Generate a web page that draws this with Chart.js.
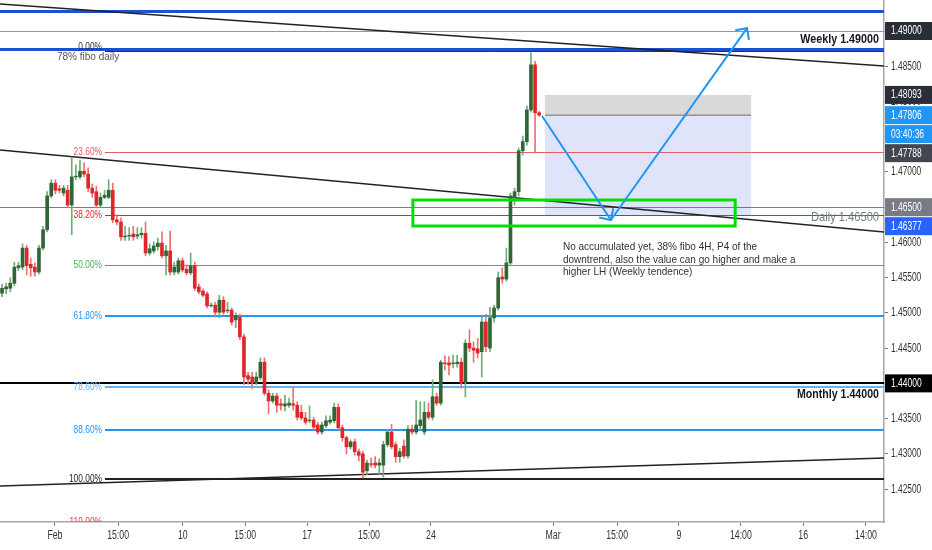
<!DOCTYPE html>
<html>
<head>
<meta charset="utf-8">
<script src="https://cdn.jsdelivr.net/npm/chart.js@4.4.1/dist/chart.umd.min.js"></script>
<style>
  html, body { margin: 0; padding: 0; background: #fff; }
  #wrap { width: 932px; height: 550px; position: relative; }
</style>
</head>
<body>
<div id="wrap"><canvas id="chart"></canvas></div>
<script>
// Velas 4H (precio)
const open = [1.4528,1.4534,1.4535,1.4542,1.4564,1.4565,1.4592,1.4569,1.4565,1.4558,
  1.4592,1.4618,1.4666,1.4684,1.4676,1.4670,1.4674,1.4653,1.4693,1.4693,
  1.4701,1.4697,1.4677,1.4672,1.4653,1.4664,1.4664,1.4674,1.4632,1.4629,
  1.4608,1.4609,1.4612,1.4609,1.4611,1.4613,1.4585,1.4588,1.4594,1.4599,
  1.4581,1.4588,1.4558,1.4558,1.4574,1.4562,1.4557,1.4567,1.4537,1.4531,
  1.4527,1.4510,1.4511,1.4501,1.4518,1.4503,1.4504,1.4490,1.4494,1.4466,
  1.4411,1.4409,1.4401,1.4408,1.4430,1.4386,1.4375,1.4382,1.4371,1.4368,
  1.4369,1.4371,1.4369,1.4359,1.4351,1.4347,1.4348,1.4341,1.4331,1.4340,
  1.4345,1.4347,1.4366,1.4337,1.4323,1.4310,1.4317,1.4303,1.4300,1.4276,
  1.4286,1.4287,1.4284,1.4284,1.4313,1.4331,1.4313,1.4296,1.4311,1.4297,
  1.4335,1.4331,1.4340,1.4331,1.4359,1.4352,1.4381,1.4372,1.4429,1.4429,
  1.4428,1.4428,1.4430,1.4402,1.4457,1.4450,1.4449,1.4445,1.4487,1.4450,
  1.4493,1.4507,1.4551,1.4548,1.4571,1.4664,1.4672,1.4730,1.4743,1.4788,
  1.4852,1.4784];
const high = [1.4541,1.4542,1.4550,1.4572,1.4572,1.4598,1.4596,1.4578,1.4571,1.4596,
  1.4623,1.4672,1.4689,1.4689,1.4681,1.4681,1.4681,1.4721,1.4710,1.4717,
  1.4713,1.4706,1.4683,1.4680,1.4670,1.4674,1.4689,1.4684,1.4639,1.4635,
  1.4623,1.4621,1.4623,1.4621,1.4621,1.4629,1.4598,1.4601,1.4606,1.4615,
  1.4596,1.4616,1.4572,1.4578,1.4578,1.4568,1.4585,1.4572,1.4541,1.4534,
  1.4530,1.4514,1.4515,1.4525,1.4523,1.4515,1.4507,1.4500,1.4498,1.4470,
  1.4416,1.4416,1.4416,1.4436,1.4436,1.4391,1.4386,1.4386,1.4378,1.4383,
  1.4379,1.4395,1.4374,1.4369,1.4359,1.4368,1.4352,1.4345,1.4345,1.4354,
  1.4354,1.4372,1.4371,1.4341,1.4325,1.4320,1.4321,1.4307,1.4304,1.4291,
  1.4294,1.4296,1.4293,1.4318,1.4335,1.4342,1.4317,1.4308,1.4320,1.4340,
  1.4341,1.4376,1.4374,1.4374,1.4372,1.4405,1.4386,1.4433,1.4439,1.4438,
  1.4440,1.4440,1.4436,1.4462,1.4476,1.4459,1.4464,1.4496,1.4498,1.4508,
  1.4511,1.4558,1.4564,1.4592,1.4670,1.4677,1.4734,1.4751,1.4794,1.4869,
  1.4857,1.4786];
const low = [1.4523,1.4527,1.4530,1.4538,1.4560,1.4561,1.4554,1.4552,1.4552,1.4555,
  1.4589,1.4615,1.4663,1.4669,1.4670,1.4666,1.4649,1.4611,1.4689,1.4690,
  1.4693,1.4672,1.4664,1.4649,1.4649,1.4662,1.4662,1.4628,1.4625,1.4603,
  1.4603,1.4603,1.4603,1.4605,1.4606,1.4581,1.4582,1.4585,1.4589,1.4578,
  1.4554,1.4554,1.4554,1.4555,1.4558,1.4554,1.4554,1.4532,1.4527,1.4523,
  1.4507,1.4508,1.4494,1.4493,1.4498,1.4500,1.4483,1.4479,1.4462,1.4398,
  1.4399,1.4393,1.4398,1.4405,1.4383,1.4357,1.4372,1.4359,1.4362,1.4361,
  1.4366,1.4362,1.4348,1.4348,1.4342,1.4344,1.4334,1.4328,1.4328,1.4337,
  1.4342,1.4344,1.4334,1.4318,1.4300,1.4307,1.4298,1.4290,1.4266,1.4270,
  1.4281,1.4280,1.4271,1.4267,1.4310,1.4307,1.4288,1.4288,1.4294,1.4294,
  1.4328,1.4328,1.4334,1.4327,1.4349,1.4348,1.4369,1.4369,1.4419,1.4412,
  1.4422,1.4423,1.4393,1.4381,1.4445,1.4430,1.4436,1.4409,1.4445,1.4445,
  1.4487,1.4504,1.4542,1.4545,1.4567,1.4653,1.4666,1.4724,1.4738,1.4785,
  1.4727,1.4779];
const close = [1.4535,1.4537,1.4542,1.4565,1.4567,1.4592,1.4567,1.4564,1.4558,1.4592,
  1.4618,1.4666,1.4684,1.4674,1.4674,1.4677,1.4653,1.4693,1.4694,1.4701,
  1.4697,1.4677,1.4670,1.4653,1.4664,1.4667,1.4674,1.4632,1.4629,1.4608,
  1.4609,1.4610,1.4608,1.4611,1.4613,1.4585,1.4591,1.4595,1.4599,1.4581,
  1.4588,1.4558,1.4565,1.4574,1.4561,1.4557,1.4567,1.4535,1.4530,1.4525,
  1.4510,1.4511,1.4501,1.4518,1.4501,1.4504,1.4487,1.4496,1.4466,1.4409,
  1.4406,1.4401,1.4409,1.4430,1.4386,1.4375,1.4382,1.4369,1.4369,1.4371,
  1.4372,1.4369,1.4352,1.4351,1.4345,1.4348,1.4338,1.4331,1.4341,1.4347,
  1.4348,1.4366,1.4337,1.4323,1.4310,1.4317,1.4303,1.4298,1.4274,1.4287,
  1.4285,1.4284,1.4287,1.4313,1.4331,1.4310,1.4296,1.4303,1.4297,1.4335,
  1.4331,1.4341,1.4348,1.4359,1.4352,1.4381,1.4372,1.4430,1.4428,1.4426,
  1.4429,1.4430,1.4401,1.4457,1.4450,1.4447,1.4443,1.4487,1.4452,1.4493,
  1.4507,1.4550,1.4548,1.4571,1.4666,1.4672,1.4730,1.4743,1.4788,1.4852,
  1.4784,1.47806];

// Ejes
const yTickValues = [1.425,1.43,1.435,1.44,1.445,1.45,1.455,1.46,1.465,1.47,1.475,1.48,1.485,1.49];
const xTickSlots = [12.9,28.3,44.1,59.3,74.4,89.5,104.6,134.4,150,165.1,180.2,195.4,210.7];
const xTickLabels = ['Feb','15:00','10','15:00','17','15:00','24','Mar','15:00','9','14:00','16','14:00'];

// Niveles y dibujos
const keyLevels = [1.49, 1.465, 1.44];
const keyLabels = ['Weekly 1.49000', 'Daily 1.46500', 'Monthly 1.44000'];
const blueLevels = [1.4928, 1.4874];
const fibHigh = 1.48716, fibLow = 1.42643, fibStart = 25.1;
const fibRatios = [0, 0.236, 0.382, 0.5, 0.618, 0.786, 0.886, 1, 1.1];
const fibColors = ['#333333','#e35d5d','#ff1a1a','#4caf50','#2196f3','#64b5f6','#2196f3','#222222','#f23645'];
const trendLines = [[-0.5, 1.49383, 215.1, 1.48503], [-0.5, 1.47312, 215.1, 1.46148], [-0.5, 1.42544, 215.1, 1.42941]];
const posBox = [132.4, 182.7];
const posPrices = [1.48093, 1.47806, 1.46377];
const zoneBox = [100.2, 178.8, 1.46602, 1.46233];
const arrowPath = [[131.7, 1.47794], [148.5, 1.46318], [181.7, 1.4904]];
const noteLines = ['No accumulated yet, 38% fibo 4H, P4 of the', 'downtrend, also the value can go higher and make a', 'higher LH (Weekly tendence)'];
const tagPrices = [1.49, 1.48093, 1.47806, 1.47806, 1.47788, 1.465, 1.46377, 1.44];
const tagTexts = ['1.49000','1.48093','1.47806','03:40:36','1.47788','1.46500','1.46377','1.44000'];
const tagColors = ['#2a2e39','#2a2e39','#2196f3','#2196f3','#434651','#787b86','#2962ff','#000000'];

const FONT = '"Liberation Sans", Arial, sans-serif';
const slots = open.map((_, i) => i);
const isUp = i => close[i] >= open[i];

// texto estrecho (estilo TradingView)
function narrow(ctx, text, x, y, sx, align) {
    ctx.save();
    ctx.translate(x, y);
    ctx.scale(sx, 1);
    ctx.textAlign = align;
    ctx.fillText(text, 0, 0);
    ctx.restore();
}

// Dibujo de niveles, fibo, textos y etiquetas del eje
const overlay = {
    id: 'overlay',
    beforeDatasetsDraw(chart) {
        const { ctx, chartArea: a, scales: { x, y } } = chart;
        ctx.save();
        ctx.beginPath();
        ctx.rect(a.left, a.top, a.right - a.left, a.bottom - a.top);
        ctx.clip();

        // caja de posición
        const px1 = x.getPixelForValue(posBox[0]), px2 = x.getPixelForValue(posBox[1]);
        const t = y.getPixelForValue(posPrices[0]), e = y.getPixelForValue(posPrices[1]), s = y.getPixelForValue(posPrices[2]);
        ctx.fillStyle = '#d9d9d9';
        ctx.fillRect(px1, t, px2 - px1, e - t);
        ctx.fillStyle = '#dfe4fb';
        ctx.fillRect(px1, e, px2 - px1, s - e);
        ctx.strokeStyle = '#6b6b6b';
        ctx.lineWidth = 1;
        ctx.beginPath(); ctx.moveTo(px1, e); ctx.lineTo(px2, e); ctx.stroke();

        const hline = (p, x0, color, w) => {
            const py = Math.round(y.getPixelForValue(p)) + (w % 2 ? 0.5 : 0);
            ctx.strokeStyle = color; ctx.lineWidth = w;
            ctx.beginPath(); ctx.moveTo(x0, py); ctx.lineTo(a.right, py); ctx.stroke();
        };
        // niveles clave
        hline(keyLevels[0], a.left, '#9598a1', 1);
        hline(keyLevels[1], a.left, '#787b86', 1);
        hline(keyLevels[2], a.left, '#000000', 2);
        blueLevels.forEach(p => hline(p, a.left, '#1a4fd6', 3));

        // fibonacci
        const fx = x.getPixelForValue(fibStart);
        ctx.font = '11px ' + FONT;
        ctx.textBaseline = 'middle';
        fibRatios.forEach((r, i) => {
            const p = fibHigh - r * (fibHigh - fibLow);
            hline(p, fx, fibColors[i], (r === 0.618 || r === 0.886 || r === 0.786 || r === 1) ? 2 : 1);
            ctx.fillStyle = fibColors[i];
            narrow(ctx, (r * 100).toFixed(2) + '%', fx - 3, y.getPixelForValue(p) - (r === 0 ? 4 : 0), 0.76, 'right');
        });

        // líneas de tendencia
        ctx.strokeStyle = '#222';
        ctx.lineWidth = 1.4;
        trendLines.forEach(l => {
            ctx.beginPath();
            ctx.moveTo(x.getPixelForValue(l[0]), y.getPixelForValue(l[1]));
            ctx.lineTo(x.getPixelForValue(l[2]), y.getPixelForValue(l[3]));
            ctx.stroke();
        });
        ctx.restore();
    },
    afterDatasetsDraw(chart) {
        const { ctx, chartArea: a, scales: { x, y } } = chart;
        ctx.save();
        ctx.beginPath();
        ctx.rect(a.left, a.top, a.right - a.left, a.bottom - a.top);
        ctx.clip();

        // zona verde
        const zx1 = x.getPixelForValue(zoneBox[0]), zx2 = x.getPixelForValue(zoneBox[1]);
        const zy1 = y.getPixelForValue(zoneBox[2]), zy2 = y.getPixelForValue(zoneBox[3]);
        ctx.strokeStyle = '#00e000';
        ctx.lineWidth = 3;
        ctx.strokeRect(zx1, zy1, zx2 - zx1, zy2 - zy1);

        // flechas
        const pts = arrowPath.map(p => [x.getPixelForValue(p[0]), y.getPixelForValue(p[1])]);
        ctx.strokeStyle = '#2196f3';
        ctx.lineWidth = 2;
        for (let i = 0; i < pts.length - 1; i++) {
            const [x0, y0] = pts[i], [x1, y1] = pts[i + 1];
            ctx.beginPath(); ctx.moveTo(x0, y0); ctx.lineTo(x1, y1); ctx.stroke();
            const ang = Math.atan2(y0 - y1, x0 - x1);
            ctx.beginPath();
            ctx.moveTo(x1 + 12 * Math.cos(ang - 0.78), y1 + 12 * Math.sin(ang - 0.78));
            ctx.lineTo(x1, y1);
            ctx.lineTo(x1 + 12 * Math.cos(ang + 0.78), y1 + 12 * Math.sin(ang + 0.78));
            ctx.stroke();
        }

        // textos de niveles
        ctx.textBaseline = 'middle';
        ctx.fillStyle = '#131722';
        ctx.font = 'bold 12.5px ' + FONT;
        narrow(ctx, keyLabels[0], a.right - 5, y.getPixelForValue(keyLevels[0]) + 9, 0.86, 'right');
        narrow(ctx, keyLabels[2], a.right - 5, y.getPixelForValue(keyLevels[2]) + 11, 0.85, 'right');
        ctx.fillStyle = '#787b86';
        ctx.font = '12.5px ' + FONT;
        narrow(ctx, keyLabels[1], a.right - 5, y.getPixelForValue(keyLevels[1]) + 10, 0.89, 'right');

        // nota fibo diaria
        ctx.fillStyle = '#555';
        ctx.font = '11.5px ' + FONT;
        narrow(ctx, '78% fibo daily', x.getPixelForValue(13.4), y.getPixelForValue(1.48631), 0.87, 'left');

        // comentario
        ctx.fillStyle = '#333';
        ctx.font = '11.5px ' + FONT;
        const nx = x.getPixelForValue(136.8), ny = y.getPixelForValue(1.45935);
        noteLines.forEach((s, i) => narrow(ctx, s, nx, ny + i * 12.5, 0.87, 'left'));
        ctx.restore();
    },
    afterDraw(chart) {
        const { ctx, chartArea: a, scales: { x, y } } = chart;
        ctx.save();
        ctx.font = '12.5px ' + FONT;
        ctx.textBaseline = 'middle';
        ctx.fillStyle = '#333';
        // etiquetas de ejes
        yTickValues.forEach(v => narrow(ctx, v.toFixed(5), a.right + 7, y.getPixelForValue(v), 0.67, 'left'));
        xTickSlots.forEach((v, i) => narrow(ctx, xTickLabels[i], x.getPixelForValue(v), a.bottom + 14, 0.7, 'center'));

        // etiquetas de precio
        let lastY = -100;
        tagPrices.forEach((p, i) => {
            let ty = y.getPixelForValue(p);
            if (ty < lastY + 19) ty = lastY + 19;
            lastY = ty;
            ctx.fillStyle = tagColors[i];
            ctx.fillRect(a.right + 1, ty - 9, chart.width - a.right - 1, 18);
            ctx.fillStyle = '#fff';
            narrow(ctx, tagTexts[i], a.right + 7, ty, 0.68, 'left');
        });
        ctx.restore();
    }
};

const bodies = slots.map(i => {
    const o = open[i], c = close[i];
    return { x: i, y: Math.abs(o - c) < 0.00006 ? [o - 0.00004, o + 0.00004] : [o, c] };
});
const wicks = slots.map(i => ({ x: i, y: [low[i], high[i]] }));

new Chart(document.getElementById('chart'), {
    type: 'bar',
    data: {
        datasets: [
            {
                data: bodies, order: 0, grouped: false, barThickness: 3,
                backgroundColor: slots.map(i => isUp(i) ? '#2f6537' : '#e0262b'),
                borderWidth: 0
            },
            {
                data: wicks, order: 1, grouped: false, barThickness: 1,
                backgroundColor: slots.map(i => isUp(i) ? '#6fae76' : '#ee7070'),
                borderWidth: 0
            }
        ]
    },
    options: {
        responsive: true,
        maintainAspectRatio: false,
        animation: false,
        layout: { padding: 0 },
        plugins: { legend: { display: false }, tooltip: { enabled: false } },
        scales: {
            x: {
                type: 'linear', min: -0.5, max: 215.1, offset: false,
                afterBuildTicks: s => { s.ticks = xTickSlots.map(v => ({ value: v })); },
                afterFit: s => { s.height = 28; },
                grid: { offset: false, drawOnChartArea: false, drawTicks: true, tickLength: 4, tickColor: '#777' },
                border: { color: '#a8a8a8', width: 1.5 },
                ticks: { display: false }
            },
            y: {
                position: 'right', min: 1.42033, max: 1.4944,
                afterBuildTicks: s => { s.ticks = yTickValues.map(v => ({ value: v })); },
                afterFit: s => { s.width = 48; },
                grid: { offset: false, drawOnChartArea: false, drawTicks: true, tickLength: 4, tickColor: '#777' },
                border: { color: '#a8a8a8', width: 1.5 },
                ticks: { display: false }
            }
        }
    },
    plugins: [overlay]
});
</script>
</body>
</html>
